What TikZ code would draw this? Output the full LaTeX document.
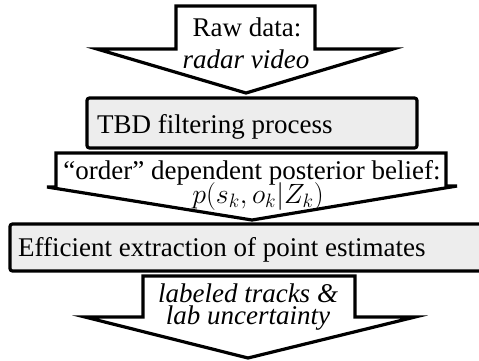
\documentclass[tikz,border=0pt]{standalone}
\usepackage{fontspec}
\usepackage{graphicx}
\setmainfont{Liberation Serif}
\begin{document}
\begin{tikzpicture}[x=1pt,y=-1pt,
  flowarrow/.style={draw=black, fill=white, line width=3.2pt, line join=miter},
  stagebox/.style={draw=black, fill=black!7, line width=3.2pt, rounded corners=2.5pt},
  lbl/.style={inner sep=0pt, anchor=base, font=\fontsize{27}{31}\selectfont},
]
\useasboundingbox (0,0) rectangle (479,360);
\clip (0,0) rectangle (479,360);

% input arrow: raw radar data
\draw[flowarrow] (176,6) -- (315,6) -- (315,49) -- (393,49) -- (246,93)
  -- (97,49) -- (176,49) -- cycle;
\node[lbl] (raw1) at (247,36) {Raw data:};
\node[lbl] (raw2) at (246,68) {\itshape radar video};

% filtering stage
\draw[stagebox] (87,98) rectangle (417,148);
\node[lbl, anchor=base west] (tbd) at (97,133) {TBD filtering process};

% posterior belief arrow
\draw[flowarrow] (56,153) -- (446,153) -- (446,186) -- (457,186) -- (252,220)
  -- (47,187) -- (56,187) -- cycle;
\node[lbl] (post1) at (252,179) {“order” dependent posterior belief:};
\node[lbl] (post2) at (258,203) {\scalebox{1.12}{$p(s_k,o_k|Z_k)$}};

% point-estimate extraction stage
\draw[stagebox] (10,224) rectangle (500,271);
\node[lbl, anchor=base west] (ext) at (18,256) {Efficient extraction of point estimates};

% output arrow: labeled tracks
\draw[flowarrow] (143,276) -- (355,276) -- (355,317) -- (415,317) -- (248,358)
  -- (85,317) -- (143,317) -- cycle;
\node[lbl] (out1) at (248,302) {\itshape labeled tracks \&};
\node[lbl] (out2) at (248,324) {\itshape lab uncertainty};
\end{tikzpicture}
\end{document}
